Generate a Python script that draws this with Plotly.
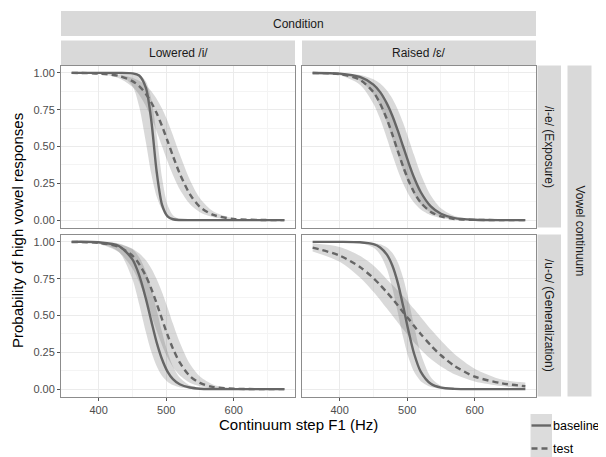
import plotly.graph_objects as go

# ---------------- data ----------------
f1_hz = [360, 400, 430, 450, 460, 470, 478, 486, 494, 502, 510, 520, 535, 550, 570, 600, 640, 675]

# Lowered /i/ , /i-e/ (Exposure)
tl_base     = [1.00, 1.00, 1.00, 0.997, 0.982, 0.898, 0.675, 0.325, 0.102, 0.026, 0.006, 0.001, 0, 0, 0, 0, 0, 0]
tl_base_hi  = [1.00, 1.00, 1.00, 0.997, 0.987, 0.941, 0.823, 0.577, 0.285, 0.104, 0.033, 0.007, 0.001, 0, 0, 0, 0, 0]
tl_base_lo  = [1.00, 1.00, 0.990, 0.911, 0.772, 0.528, 0.314, 0.159, 0.072, 0.031, 0.013, 0.004, 0.001, 0, 0, 0, 0, 0]
tl_test     = [1.00, 0.995, 0.979, 0.944, 0.910, 0.857, 0.799, 0.725, 0.637, 0.538, 0.436, 0.317, 0.177, 0.090, 0.035, 0.008, 0.001, 0]
tl_test_hi  = [1.00, 0.997, 0.988, 0.967, 0.946, 0.914, 0.875, 0.823, 0.756, 0.673, 0.577, 0.449, 0.275, 0.149, 0.059, 0.013, 0.002, 0]
tl_test_lo  = [0.999, 0.992, 0.964, 0.905, 0.851, 0.774, 0.694, 0.601, 0.500, 0.399, 0.306, 0.209, 0.109, 0.054, 0.020, 0.004, 0.001, 0]

# Raised /ɛ/ , /i-e/ (Exposure)
tr_base     = [0.999, 0.995, 0.972, 0.920, 0.869, 0.791, 0.709, 0.609, 0.500, 0.391, 0.291, 0.191, 0.093, 0.043, 0.014, 0.003, 0, 0]
tr_base_hi  = [1.00, 0.997, 0.986, 0.957, 0.928, 0.881, 0.826, 0.752, 0.661, 0.555, 0.445, 0.314, 0.167, 0.080, 0.028, 0.005, 0.001, 0]
tr_base_lo  = [0.999, 0.990, 0.947, 0.856, 0.772, 0.661, 0.555, 0.445, 0.339, 0.248, 0.174, 0.108, 0.050, 0.022, 0.007, 0.001, 0, 0]
tr_test     = [0.999, 0.991, 0.953, 0.869, 0.791, 0.686, 0.582, 0.472, 0.364, 0.269, 0.191, 0.119, 0.056, 0.025, 0.008, 0.002, 0, 0]
tr_test_hi  = [0.999, 0.995, 0.972, 0.920, 0.869, 0.791, 0.709, 0.609, 0.500, 0.391, 0.291, 0.191, 0.093, 0.043, 0.014, 0.003, 0, 0]
tr_test_lo  = [0.998, 0.984, 0.920, 0.791, 0.686, 0.555, 0.445, 0.339, 0.248, 0.174, 0.119, 0.072, 0.033, 0.014, 0.005, 0.001, 0, 0]

# Lowered /i/ , /u-o/ (Generalization)
bl_base     = [1.00, 0.997, 0.972, 0.881, 0.774, 0.613, 0.462, 0.316, 0.201, 0.119, 0.068, 0.033, 0.011, 0.003, 0.001, 0, 0, 0]
bl_base_hi  = [1.00, 0.999, 0.989, 0.949, 0.896, 0.799, 0.684, 0.538, 0.387, 0.254, 0.156, 0.079, 0.026, 0.008, 0.002, 0, 0, 0]
bl_base_lo  = [1.00, 0.993, 0.932, 0.746, 0.577, 0.387, 0.254, 0.156, 0.090, 0.051, 0.028, 0.013, 0.004, 0.001, 0, 0, 0, 0]
bl_test     = [0.999, 0.993, 0.966, 0.906, 0.849, 0.767, 0.681, 0.580, 0.473, 0.368, 0.275, 0.181, 0.089, 0.042, 0.014, 0.003, 0, 0]
bl_test_hi  = [1.00, 0.997, 0.984, 0.954, 0.923, 0.875, 0.819, 0.746, 0.657, 0.555, 0.445, 0.319, 0.172, 0.085, 0.030, 0.006, 0.001, 0]
bl_test_lo  = [0.998, 0.986, 0.930, 0.819, 0.725, 0.606, 0.500, 0.394, 0.297, 0.214, 0.151, 0.094, 0.044, 0.020, 0.007, 0.001, 0, 0]

# Raised /ɛ/ , /u-o/ (Generalization)
br_base     = [1.00, 1.00, 0.997, 0.984, 0.962, 0.913, 0.839, 0.723, 0.565, 0.394, 0.244, 0.119, 0.036, 0.010, 0.002, 0, 0, 0]
br_base_hi  = [1.00, 1.00, 0.999, 0.993, 0.984, 0.962, 0.926, 0.862, 0.756, 0.606, 0.435, 0.244, 0.081, 0.023, 0.004, 0, 0, 0]
br_base_lo  = [1.00, 0.999, 0.993, 0.962, 0.913, 0.815, 0.686, 0.522, 0.352, 0.214, 0.119, 0.054, 0.015, 0.004, 0.001, 0, 0, 0]
br_test     = [0.961, 0.907, 0.829, 0.754, 0.707, 0.657, 0.615, 0.570, 0.522, 0.478, 0.430, 0.375, 0.297, 0.230, 0.158, 0.085, 0.040, 0.020]
br_test_hi  = [0.990, 0.965, 0.905, 0.840, 0.795, 0.745, 0.709, 0.670, 0.630, 0.589, 0.545, 0.490, 0.406, 0.330, 0.239, 0.139, 0.065, 0.045]
br_test_lo  = [0.935, 0.865, 0.758, 0.661, 0.606, 0.547, 0.500, 0.453, 0.406, 0.361, 0.319, 0.269, 0.204, 0.153, 0.101, 0.052, 0.021, 0.004]

col_labels = ["Lowered /i/", "Raised /ɛ/"]
row_labels = ["/i-e/ (Exposure)", "/u-o/ (Generalization)"]
col_title = "Condition"
row_title = "Vowel continuum"
x_title = "Continuum step F1 (Hz)"
y_title = "Probability of high vowel responses"
x_ticks = [400, 500, 600]
y_ticks = [0.0, 0.25, 0.5, 0.75, 1.0]
y_ticklabels = ["0.00", "0.25", "0.50", "0.75", "1.00"]
series_names = ["baseline", "test"]

panels = {
    (0, 0): (tl_base, tl_base_lo, tl_base_hi, tl_test, tl_test_lo, tl_test_hi),
    (0, 1): (tr_base, tr_base_lo, tr_base_hi, tr_test, tr_test_lo, tr_test_hi),
    (1, 0): (bl_base, bl_base_lo, bl_base_hi, bl_test, bl_test_lo, bl_test_hi),
    (1, 1): (br_base, br_base_lo, br_base_hi, br_test, br_test_lo, br_test_hi),
}

# ---------------- layout geometry ----------------
# page body has an 8px margin, so the figure is offset by 8px in the window
OFF = 8
W, H = 606 - OFF, 457 - OFF
def px(x): return (x - OFF) / W
def py(y): return 1 - (y - OFF) / H

col_px = [(61, 295), (302, 536)]
row_px = [(65.5, 227.5), (234.5, 396.5)]

LINE = "#666666"
RIB = "rgba(120,120,120,0.28)"
STRIP = "#d9d9d9"
FONT = "Liberation Sans, Arial, sans-serif"

fig = go.Figure()
layout = dict(
    width=W, height=H, margin=dict(l=0, r=0, t=0, b=0),
    paper_bgcolor="white", plot_bgcolor="white", showlegend=False,
    font=dict(family=FONT, color="#4d4d4d", size=11),
)

shapes = []
annotations = []

def label(text, x, y, size=12, color="#1a1a1a", angle=0, xanchor="center"):
    annotations.append(dict(text=text, xref="paper", yref="paper", x=px(x), y=py(y),
                            xanchor=xanchor, yanchor="middle", textangle=angle, borderpad=0,
                            showarrow=False, font=dict(family=FONT, size=size, color=color)))

def rect(x0, x1, y0, y1, fill):
    shapes.append(dict(type="rect", xref="paper", yref="paper", x0=px(x0), x1=px(x1),
                       y0=py(y1), y1=py(y0), fillcolor=fill, line=dict(width=0), layer="below"))

idx = 0
for (r, c), (b, blo, bhi, t, tlo, thi) in panels.items():
    idx += 1
    xa = "x" if idx == 1 else f"x{idx}"
    ya = "y" if idx == 1 else f"y{idx}"
    for lo, hi in ((blo, bhi), (tlo, thi)):
        fig.add_trace(go.Scatter(x=f1_hz, y=lo, mode="lines", line=dict(width=0, shape="spline", smoothing=0.8),
                                 hoverinfo="skip", xaxis=xa, yaxis=ya))
        fig.add_trace(go.Scatter(x=f1_hz, y=hi, mode="lines", fill="tonexty", fillcolor=RIB,
                                 line=dict(width=0, shape="spline", smoothing=0.8),
                                 hoverinfo="skip", xaxis=xa, yaxis=ya))
    fig.add_trace(go.Scatter(x=f1_hz, y=b, mode="lines", name=series_names[0],
                             line=dict(color=LINE, width=2.4, shape="spline", smoothing=0.8),
                             xaxis=xa, yaxis=ya))
    fig.add_trace(go.Scatter(x=f1_hz, y=t, mode="lines", name=series_names[1],
                             line=dict(color=LINE, width=2.4, dash="6px,4px", shape="spline", smoothing=0.8),
                             xaxis=xa, yaxis=ya))

    x0, x1 = col_px[c]
    y0, y1 = row_px[r]
    axcommon = dict(showline=True, mirror=True, linecolor="#8c8c8c", linewidth=1,
                    showgrid=True, gridcolor="#ebebeb", gridwidth=1, zeroline=False,
                    ticklen=3, tickcolor="#555555", tickwidth=1,
                    tickfont=dict(family=FONT, size=11, color="#4d4d4d"))
    layout["xaxis" if idx == 1 else f"xaxis{idx}"] = dict(
        axcommon, domain=[px(x0), px(x1)], anchor=ya, range=[344.25, 690.75],
        tickvals=x_ticks, showticklabels=(r == 1), ticks="outside" if r == 1 else "",
        minor=dict(tickvals=[450, 550, 650], showgrid=True, gridcolor="#f4f4f4", gridwidth=1, ticks=""))
    layout["yaxis" if idx == 1 else f"yaxis{idx}"] = dict(
        axcommon, domain=[py(y1), py(y0)], anchor=xa, range=[-0.05, 1.05],
        tickvals=y_ticks, ticktext=y_ticklabels, showticklabels=(c == 0), ticks="outside" if c == 0 else "",
        minor=dict(tickvals=[0.125, 0.375, 0.625, 0.875], showgrid=True, gridcolor="#f4f4f4", gridwidth=1, ticks=""))

# column strips
for c, (x0, x1) in enumerate(col_px):
    rect(x0, x1, 40.5, 65.5, STRIP)
    label(col_labels[c], (x0 + x1) / 2, 53)
# Condition strip
rect(61, 536, 11, 36, STRIP)
label(col_title, 298.5, 23.5)
# row strips
for r, (y0, y1) in enumerate(row_px):
    rect(537.5, 561, y0, y1, STRIP)
    label(row_labels[r], 549.5, (y0 + y1) / 2, angle=90)
# Vowel continuum strip
rect(567.5, 591.5, 65.5, 396.5, STRIP)
label(row_title, 579.5, 231, angle=90)

# axis titles
label(x_title, 298.5, 424, size=15, color="#000000")
label(y_title, 17, 231, size=15, color="#000000", angle=-90)

# legend keys
for i, (name, dash) in enumerate(zip(series_names, ["solid", "dash"])):
    ky0, ky1 = 414 + i * 23, 437 + i * 23
    shapes.append(dict(type="rect", xref="paper", yref="paper", x0=px(530.5), x1=px(552), y0=py(ky1), y1=py(ky0),
                       fillcolor="#dcdcdc", line=dict(width=0)))
    ym = (ky0 + ky1) / 2
    shapes.append(dict(type="line", xref="paper", yref="paper", x0=px(531.5), x1=px(551),
                       y0=py(ym), y1=py(ym),
                       line=dict(color=LINE, width=2.4, dash="6px,4px" if dash == "dash" else "solid")))
    label(name, 552, ym, size=12.5, color="#000000", xanchor="left")

layout["shapes"] = shapes
layout["annotations"] = annotations
fig.update_layout(**layout)
fig.write_html("out.html")
